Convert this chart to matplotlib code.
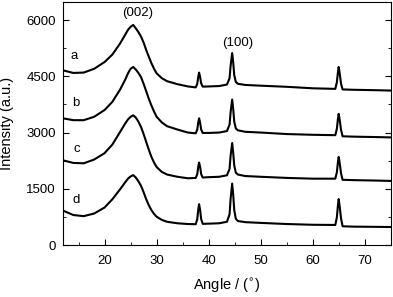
import matplotlib
matplotlib.use('Agg')
import numpy as np
from matplotlib import pyplot as plt
from matplotlib.ticker import MultipleLocator

plt.rcParams['font.family'] = ['Liberation Sans', 'DejaVu Sans']

# diffraction angle (2theta) sample points
angle = [12, 14, 16, 18, 20, 21.5, 23, 24, 24.5, 25, 25.5, 26, 26.5, 27, 27.5, 28, 28.5, 29, 29.5,
         30, 31, 32, 34, 36,
         37.5, 37.8, 38.0, 38.15, 38.35, 38.55, 38.85, 40, 42,
         43.5, 44.0, 44.2, 44.5, 44.7, 44.9, 45.2, 45.6,
         47, 50, 55, 60,
         64.3, 64.6, 64.8, 64.95, 65.15, 65.4, 65.7,
         68, 72, 75]

curve_a = [4660, 4590, 4600, 4700, 4880, 5080, 5380, 5620, 5740, 5820, 5870, 5780, 5680, 5560,
           5400, 5200, 5020, 4850, 4700, 4580, 4450, 4370, 4290, 4230,
           4205, 4300, 4500, 4600, 4480, 4310, 4225, 4230, 4240,
           4280, 4450, 4780, 5120, 4870, 4530, 4350, 4300,
           4270, 4250, 4220, 4180,
           4165, 4340, 4600, 4750, 4570, 4300, 4150,
           4140, 4130, 4120]
curve_b = [3380, 3330, 3330, 3420, 3600, 3820, 4150, 4420, 4580, 4700, 4750, 4680, 4590, 4480,
           4300, 4100, 3900, 3720, 3560, 3420, 3270, 3170, 3080, 3000,
           2980, 3080, 3280, 3380, 3260, 3080, 2990, 2990, 3000,
           3040, 3210, 3540, 3880, 3630, 3290, 3110, 3060,
           3020, 3000, 2960, 2940,
           2930, 3100, 3360, 3500, 3330, 3070, 2900,
           2890, 2880, 2870]
curve_c = [2260, 2190, 2180, 2280, 2450, 2680, 3020, 3250, 3350, 3420, 3460, 3400, 3290, 3150,
           2960, 2750, 2540, 2350, 2200, 2080, 1950, 1880, 1820, 1780,
           1790, 1890, 2100, 2200, 2080, 1890, 1800, 1810, 1820,
           1860, 2030, 2380, 2720, 2460, 2120, 1930, 1880,
           1840, 1820, 1790, 1770,
           1770, 1940, 2200, 2350, 2180, 1910, 1740,
           1730, 1720, 1710]
curve_d = [920, 800, 770, 840, 1000, 1220, 1490, 1680, 1770, 1830, 1865, 1800, 1700, 1580,
           1410, 1220, 1060, 930, 830, 755, 670, 620, 580, 560,
           555, 690, 960, 1090, 930, 690, 565, 570, 580,
           620, 820, 1230, 1640, 1340, 930, 700, 640,
           610, 590, 560, 540,
           535, 740, 1050, 1225, 1020, 710, 500,
           490, 485, 480]

curves = [curve_a, curve_b, curve_c, curve_d]
names = ['a', 'b', 'c', 'd']
name_pos = [(14.2, 5030), (14.4, 3790), (14.6, 2560), (14.5, 1190)]

fig = plt.figure(figsize=(3.93, 2.97), dpi=100)
ax = fig.add_axes([0.160, 0.175, 0.835, 0.818])

for y, n, p in zip(curves, names, name_pos):
    ax.plot(angle, y, color='black', lw=1.5)
    ax.text(p[0], p[1], n, fontsize=9.5, ha='center', va='center')

ax.text(26.4, 6200, '(002)', fontsize=9.5, ha='center', va='center')
ax.text(45.6, 5390, '(100)', fontsize=9.5, ha='center', va='center')

ax.set_xlim(12, 75)
ax.set_ylim(0, 6480)
ax.xaxis.set_major_locator(MultipleLocator(10))
ax.xaxis.set_minor_locator(MultipleLocator(5))
ax.yaxis.set_major_locator(MultipleLocator(1500))
ax.yaxis.set_minor_locator(MultipleLocator(750))
ax.tick_params(which='both', direction='in', right=True, labelsize=9.5)
ax.tick_params(which='major', length=4)
ax.tick_params(which='minor', length=2)
ax.tick_params(axis='x', pad=7)
ax.tick_params(axis='y', pad=5)

ax.set_xlabel('Angle / ($^{\\circ}$)', fontsize=10.5, labelpad=7)
ax.set_ylabel('Intensity (a.u.)', fontsize=10.5, labelpad=9)

plt.savefig('out.png', dpi=100)
